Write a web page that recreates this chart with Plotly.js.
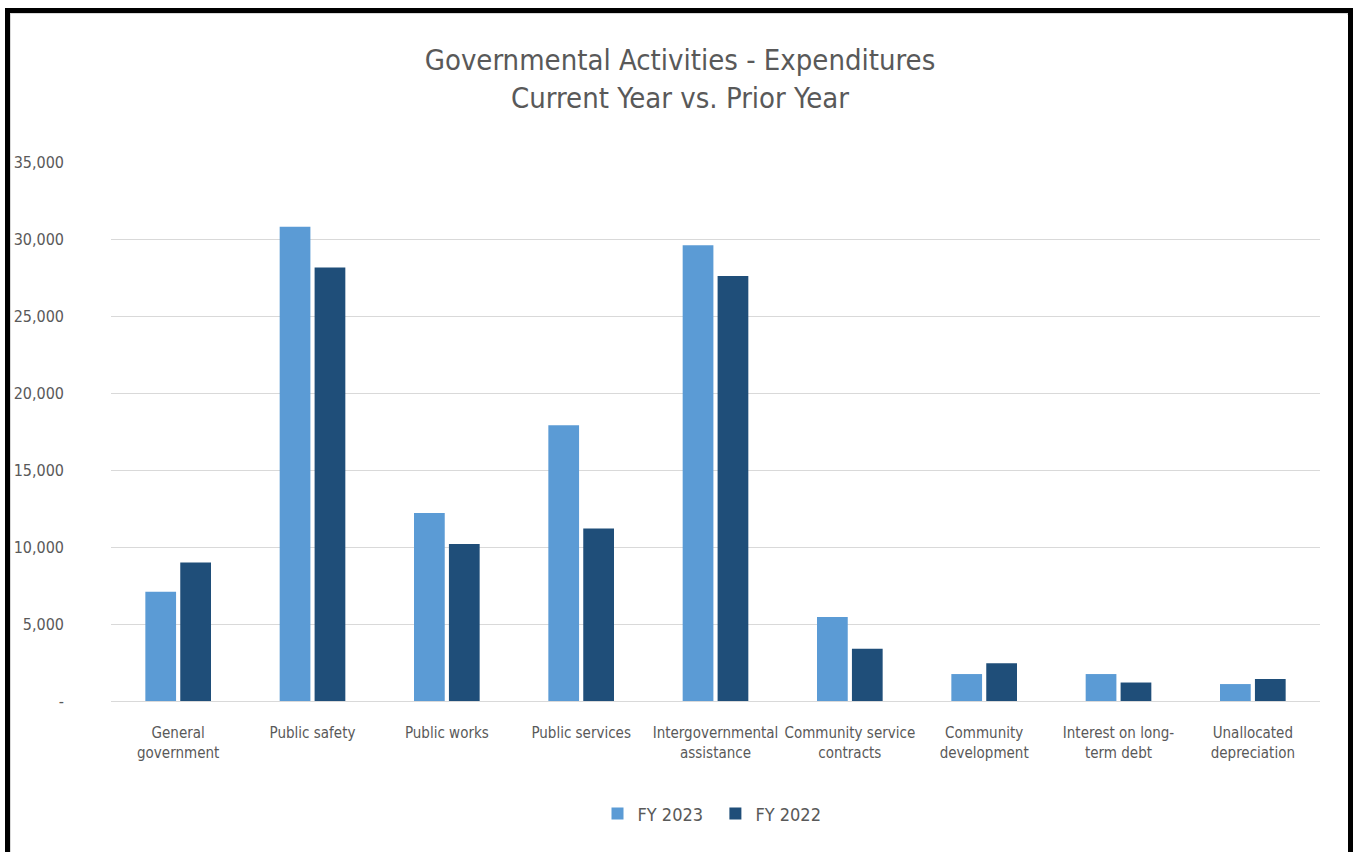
<!DOCTYPE html>
<html>
<head>
<meta charset="utf-8">
<script src="https://cdn.plot.ly/plotly-3.0.1.min.js"></script>
<style>
  html, body { margin: 0; padding: 0; background: #ffffff; width: 1358px; height: 852px; overflow: hidden; }
  #frame { position: absolute; left: 5px; top: 8px; width: 1338px; height: 844px;
           border-left: 5px solid #000; border-top: 5px solid #000; border-right: 5px solid #000; box-sizing: content-box; }
  #inner { position: absolute; left: 0; top: 0; right: 0; bottom: 0; border: 1px solid #d9d9d9; box-sizing: border-box; }
  #chart { position: absolute; left: 1px; top: 1px; width: 1336px; height: 838px; }
  #chart svg text { font-stretch: condensed !important; }
</style>
</head>
<body>
<div id="frame"><div id="inner"><div id="chart"></div></div></div>
<script>
const categories = [
  "General<br>government",
  "Public safety",
  "Public works",
  "Public services",
  "Intergovernmental<br>assistance",
  "Community service<br>contracts",
  "Community<br>development",
  "Interest on long-<br>term debt",
  "Unallocated<br>depreciation"
];
const fy2023 = [7100, 30800, 12200, 17900, 29600, 5450, 1750, 1750, 1100];
const fy2022 = [9000, 28150, 10200, 11200, 27600, 3400, 2450, 1200, 1430];
const yTickVals = [0, 5000, 10000, 15000, 20000, 25000, 30000, 35000];
const yTickText = ["-", "5,000", "10,000", "15,000", "20,000", "25,000", "30,000", "35,000"];

const FONT = "'DejaVu Sans', sans-serif";
const TXT = "#595959";

const data = [
  { type: "bar", name: "FY 2023", x: categories, y: fy2023, marker: { color: "#5B9BD5" }, hoverinfo: "skip" },
  { type: "bar", name: "FY 2022", x: categories, y: fy2022, marker: { color: "#1F4E79" }, hoverinfo: "skip" }
];

const layout = {
  width: 1336, height: 838,
  margin: { l: 99, r: 28, t: 147, b: 152 },
  paper_bgcolor: "#ffffff", plot_bgcolor: "#ffffff",
  font: { family: FONT, color: TXT, size: 15 },
  title: {
    text: "Governmental Activities - Expenditures<br>Current Year vs. Prior Year",
    font: { family: FONT, size: 29, color: TXT },
    x: 0.5, xanchor: "center", y: 0.934, yanchor: "top"
  },
  barmode: "group", bargap: 0.48, bargroupgap: 0.12,
  xaxis: {
    type: "category", showgrid: false, zeroline: false, showline: true,
    linecolor: "#d9d9d9", linewidth: 1, ticks: "", tickangle: 0,
    ticklabelstandoff: 18,
    tickfont: { family: FONT, size: 15, color: TXT }
  },
  yaxis: {
    range: [0, 35000], tickvals: yTickVals, ticktext: yTickText,
    showgrid: true, gridcolor: "#d9d9d9", gridwidth: 1, zeroline: false,
    showline: false, ticks: "", ticklabelstandoff: 46,
    tickfont: { family: FONT, size: 16, color: TXT }
  },
  showlegend: true,
  legend: {
    orientation: "h", x: 0.5, xanchor: "center", y: -0.175, yanchor: "top",
    font: { family: FONT, size: 18, color: TXT }, itemwidth: 30
  }
};

Plotly.newPlot("chart", data, layout, { displayModeBar: false, staticPlot: true });
</script>
</body>
</html>
